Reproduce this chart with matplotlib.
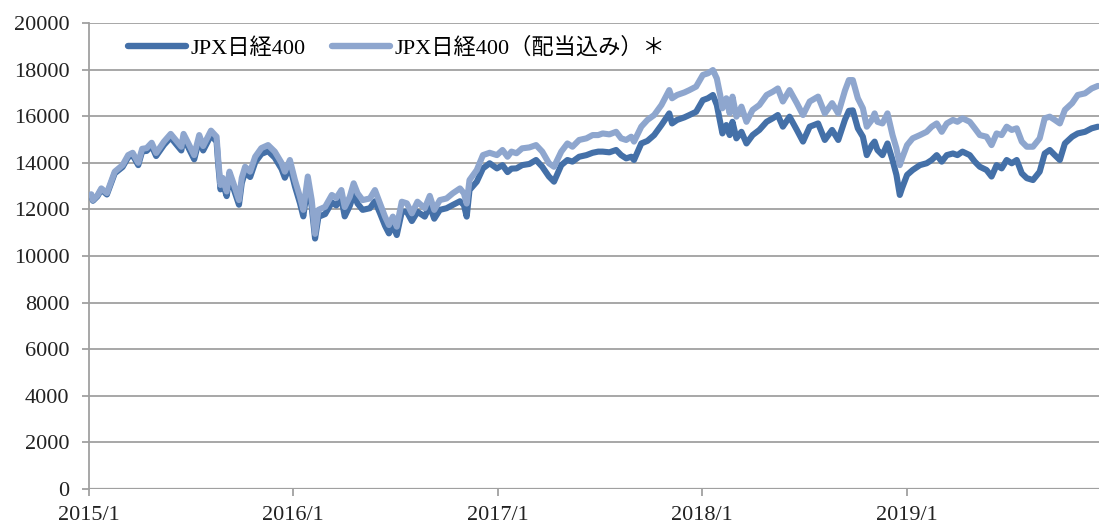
import matplotlib
matplotlib.use("Agg")
import matplotlib.pyplot as plt
import pandas as pd

plt.rcParams['font.family'] = ['Liberation Serif', 'Noto Sans CJK JP']

# 読み取った値（日付, 配当込み, 価格指数）
dates = [
    "2015-01-05", "2015-01-08", "2015-01-16", "2015-01-23", "2015-02-02", "2015-02-16",
    "2015-03-02", "2015-03-12", "2015-03-20", "2015-03-30", "2015-04-06", "2015-04-14",
    "2015-04-23", "2015-05-01", "2015-05-15", "2015-05-27", "2015-06-05", "2015-06-15",
    "2015-06-19", "2015-06-26", "2015-07-08", "2015-07-17", "2015-07-24", "2015-08-07",
    "2015-08-17", "2015-08-20", "2015-08-24", "2015-08-28", "2015-09-04", "2015-09-09",
    "2015-09-16", "2015-09-26", "2015-10-01", "2015-10-07", "2015-10-16", "2015-10-25",
    "2015-11-05", "2015-11-17", "2015-11-29", "2015-12-11", "2015-12-17", "2015-12-26",
    "2016-01-04", "2016-01-13", "2016-01-19", "2016-01-27", "2016-02-03", "2016-02-09",
    "2016-02-15", "2016-02-27", "2016-03-10", "2016-03-18", "2016-03-27", "2016-04-02",
    "2016-04-11", "2016-04-18", "2016-04-25", "2016-05-04", "2016-05-17", "2016-05-26",
    "2016-06-04", "2016-06-13", "2016-06-20", "2016-06-27", "2016-07-04", "2016-07-13",
    "2016-07-22", "2016-07-31", "2016-08-10", "2016-08-23", "2016-09-01", "2016-09-09",
    "2016-09-19", "2016-10-01", "2016-10-12", "2016-10-25", "2016-11-01", "2016-11-06",
    "2016-11-11", "2016-11-24", "2016-12-05", "2016-12-17", "2016-12-30",
    "2017-01-09", "2017-01-18", "2017-01-25", "2017-02-03", "2017-02-13", "2017-02-26",
    "2017-03-10", "2017-03-21", "2017-04-02", "2017-04-11", "2017-04-24", "2017-05-05",
    "2017-05-14", "2017-05-26", "2017-06-08", "2017-06-19", "2017-06-29", "2017-07-07",
    "2017-07-19", "2017-07-31", "2017-08-09", "2017-08-18", "2017-08-27", "2017-09-01",
    "2017-09-14", "2017-09-25", "2017-10-07", "2017-10-20", "2017-11-03", "2017-11-08",
    "2017-11-17", "2017-11-30", "2017-12-09", "2017-12-21",
    "2018-01-02", "2018-01-11", "2018-01-20", "2018-01-27", "2018-02-02", "2018-02-06",
    "2018-02-13", "2018-02-19", "2018-02-24", "2018-03-03", "2018-03-12", "2018-03-21",
    "2018-04-01", "2018-04-13", "2018-04-26", "2018-05-07", "2018-05-16", "2018-05-25",
    "2018-06-06", "2018-06-19", "2018-06-30", "2018-07-12", "2018-07-27", "2018-08-08",
    "2018-08-21", "2018-09-01", "2018-09-13", "2018-09-20", "2018-09-27", "2018-10-06",
    "2018-10-15", "2018-10-22", "2018-10-31", "2018-11-05", "2018-11-10", "2018-11-19",
    "2018-11-28", "2018-12-07", "2018-12-14", "2018-12-20", "2018-12-24",
    "2019-01-02", "2019-01-12", "2019-01-25", "2019-02-06", "2019-02-15", "2019-02-24",
    "2019-03-05", "2019-03-14", "2019-03-25", "2019-04-02", "2019-04-11", "2019-04-24",
    "2019-05-03", "2019-05-12", "2019-05-24", "2019-06-02", "2019-06-11", "2019-06-20",
    "2019-06-29", "2019-07-08", "2019-07-17", "2019-07-26", "2019-08-04", "2019-08-15",
    "2019-08-27", "2019-09-05", "2019-09-14", "2019-09-23", "2019-10-02", "2019-10-11",
    "2019-10-24", "2019-11-03", "2019-11-16", "2019-11-28", "2019-12-09",
]

jpx400_tr = [
    12650, 12400, 12600, 12900, 12700, 13620,
    13900, 14330, 14430, 14000, 14600, 14630,
    14860, 14420, 14910, 15240, 14980, 14690,
    15240, 14910, 14330, 15190, 14720, 15380,
    15120, 14120, 13050, 13350, 12770, 13620,
    13130, 12400, 13350, 13830, 13620, 14260,
    14630, 14760, 14480, 14000, 13620, 14120,
    13260, 12540, 11980, 13410, 12400, 10950,
    11980, 12110, 12620, 12490, 12830, 12100,
    12540, 13120, 12690, 12400, 12470, 12830,
    12260, 11690, 11330, 11690, 11260, 12330,
    12260, 11830, 12330, 12050, 12580, 11980,
    12400, 12470, 12690, 12900, 12690, 12250,
    13260, 13690, 14330, 14430, 14330,
    14550, 14260, 14480, 14410, 14620, 14660,
    14760, 14480, 13980, 13830, 14480, 14830,
    14690, 14980, 15050, 15190, 15190, 15260,
    15220, 15330, 15050, 14980, 15120, 14910,
    15550, 15840, 16050, 16480, 17120, 16770,
    16910, 17020, 17120, 17270,
    17770, 17840, 17980, 17620, 16910, 16340,
    16770, 16120, 16840, 15980, 16410, 15760,
    16270, 16480, 16910, 17050, 17190, 16630,
    17120, 16560, 16050, 16630, 16840, 16120,
    16560, 16120, 17100, 17550, 17550, 16770,
    16340, 15550, 15840, 16120, 15760, 15690,
    16120, 15190, 14620, 13900, 14190,
    14760, 15050, 15190, 15330, 15550, 15690,
    15330, 15690, 15840, 15760, 15910, 15760,
    15480, 15190, 15120, 14760, 15260, 15190,
    15550, 15410, 15480, 14910, 14690, 14690,
    15050, 15910, 15980, 15840, 15690, 16270,
    16560, 16910, 16980, 17190, 17300,
]

jpx400 = [
    12620, 12370, 12560, 12850, 12640, 13550,
    13820, 14240, 14330, 13900, 14490, 14510,
    14730, 14290, 14770, 15090, 14820, 14530,
    15070, 14730, 14150, 15000, 14530, 15180,
    14910, 13920, 12860, 13150, 12570, 13410,
    12920, 12200, 13130, 13600, 13390, 14020,
    14380, 14500, 14220, 13740, 13360, 13850,
    12990, 12270, 11700, 13130, 12110, 10750,
    11680, 11800, 12300, 12170, 12480, 11700,
    12150, 12650, 12250, 11980, 12050, 12350,
    11840, 11300, 10970, 11330, 10900, 11900,
    11900, 11500, 11900, 11690, 12150, 11600,
    11980, 12050, 12190, 12350, 12190, 11690,
    12830, 13190, 13760, 13980, 13760,
    13900, 13600, 13750, 13760, 13900, 13950,
    14120, 13830, 13410, 13190, 13900, 14120,
    14050, 14260, 14330, 14430, 14480, 14480,
    14450, 14550, 14330, 14190, 14260, 14120,
    14830, 14940, 15190, 15620, 16120, 15690,
    15840, 15950, 16050, 16190,
    16690, 16770, 16910, 16480, 15760, 15260,
    15620, 15190, 15760, 15050, 15330, 14830,
    15190, 15410, 15760, 15910, 16050, 15550,
    15980, 15410, 14910, 15550, 15690, 14980,
    15410, 14980, 15850, 16230, 16250, 15480,
    15120, 14330, 14760, 14910, 14550, 14330,
    14830, 14120, 13480, 12620, 12910,
    13480, 13690, 13900, 13980, 14120, 14330,
    14050, 14330, 14400, 14330, 14480, 14330,
    14050, 13830, 13690, 13410, 13900, 13760,
    14120, 13980, 14120, 13550, 13340, 13260,
    13620, 14400, 14550, 14330, 14120, 14830,
    15120, 15260, 15330, 15480, 15550,
]

x_ticks = ["2015-01-01", "2016-01-01", "2017-01-01", "2018-01-01", "2019-01-01"]
x_tick_labels = ["2015/1", "2016/1", "2017/1", "2018/1", "2019/1"]
y_ticks = list(range(0, 20001, 2000))

label_price = "JPX日経400"
label_tr = "JPX日経400（配当込み）＊"

dark = "#4470a8"
light = "#8ea6ce"
grid_gray = "#a0a0a0"

t = pd.to_datetime(dates)

fig = plt.figure(figsize=(10.99, 5.24), dpi=100)
ax = fig.add_axes([89 / 1099, 35 / 524, 1010 / 1099, 466 / 524])

ax.plot(t, jpx400, color=dark, lw=4.4, solid_joinstyle='round',
        solid_capstyle='round', label=label_price, zorder=3)
ax.plot(t, jpx400_tr, color=light, lw=4.4, solid_joinstyle='round',
        solid_capstyle='round', label=label_tr, zorder=4)

ax.set_ylim(0, 20000)
ax.set_yticks(y_ticks)
ax.set_xlim(pd.Timestamp("2015-01-01"), pd.Timestamp("2019-12-11"))
ax.set_xticks(pd.to_datetime(x_ticks))
ax.set_xticklabels(x_tick_labels)

ax.grid(axis='y', color=grid_gray, lw=1.3, zorder=1)
for s in ['top', 'right', 'bottom']:
    ax.spines[s].set_visible(False)
ax.spines['left'].set_color(grid_gray)
ax.spines['left'].set_linewidth(1.3)
ax.axhline(0, color=grid_gray, lw=1.6, zorder=2)

ax.tick_params(axis='y', length=5, width=1.3, color=grid_gray, pad=9,
               labelsize=16, labelcolor='#222222')
ax.tick_params(axis='x', length=5, width=1.3, color=grid_gray, pad=7,
               labelsize=16, labelcolor='#222222')

leg = ax.legend(loc='center left', bbox_to_anchor=(39 / 1010, 441 / 466),
                ncol=2, frameon=False, fontsize=16, borderpad=0,
                borderaxespad=0, handlelength=2.6, handletextpad=0.2,
                columnspacing=1.2)
for line in leg.get_lines():
    line.set_linewidth(4.6)

fig.savefig("out.png", dpi=100)
